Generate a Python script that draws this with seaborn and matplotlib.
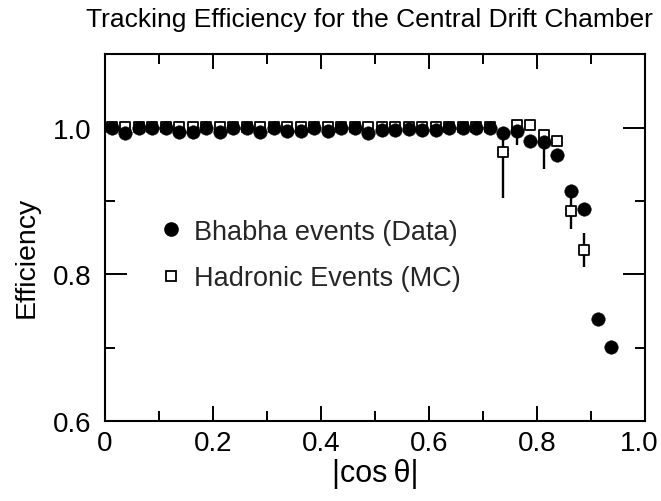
import matplotlib
matplotlib.use("Agg")
import matplotlib.pyplot as plt
import seaborn as sns
import pandas as pd
from matplotlib.ticker import MultipleLocator
from matplotlib.lines import Line2D
from matplotlib.transforms import ScaledTranslation

# ---- data ----
bhabha_cos = [0.0125, 0.0375, 0.0625, 0.0875, 0.1125, 0.1375, 0.1625, 0.1875,
              0.2125, 0.2375, 0.2625, 0.2875, 0.3125, 0.3375, 0.3625, 0.3875,
              0.4125, 0.4375, 0.4625, 0.4875, 0.5125, 0.5375, 0.5625, 0.5875,
              0.6125, 0.6375, 0.6625, 0.6875, 0.7125, 0.7375, 0.7625, 0.7875,
              0.8125, 0.8375, 0.8625, 0.8875, 0.9125, 0.9375]
bhabha_eff = [1.000, 0.993, 0.999, 0.999, 0.999, 0.994, 0.994, 0.999,
              0.994, 0.999, 0.999, 0.994, 0.999, 0.995, 0.995, 0.999,
              0.995, 0.999, 0.999, 0.993, 0.997, 0.997, 0.998, 0.997,
              0.997, 0.999, 1.000, 1.000, 1.000, 0.993, 0.995, 0.982,
              0.980, 0.963, 0.913, 0.889, 0.739, 0.701]

mc_cos = [0.0125, 0.0375, 0.0625, 0.0875, 0.1125, 0.1375, 0.1625, 0.1875,
          0.2125, 0.2375, 0.2625, 0.2875, 0.3125, 0.3375, 0.3625, 0.3875,
          0.4125, 0.4375, 0.4625, 0.4875, 0.5125, 0.5375, 0.5625, 0.5875,
          0.6125, 0.6375, 0.6625, 0.6875, 0.7125, 0.7375, 0.7625, 0.7875,
          0.8125, 0.8375, 0.8625, 0.8875]
mc_eff = [1.001, 1.001, 1.001, 1.001, 1.001, 1.001, 1.001, 1.001,
          1.001, 1.001, 1.001, 1.001, 1.001, 1.001, 1.001, 1.001,
          1.001, 1.001, 1.001, 1.001, 1.001, 1.001, 1.001, 1.001,
          1.001, 1.001, 1.001, 1.001, 1.001, 0.967, 1.004, 1.004,
          0.990, 0.982, 0.887, 0.833]

# error bars (only where visible)
bhabha_err_cos = [0.7625, 0.8125]
bhabha_err_eff = [0.995, 0.980]
bhabha_err_lo = [0.019, 0.036]
bhabha_err_hi = [0.000, 0.000]

mc_err_cos = [0.7375, 0.8625, 0.8875]
mc_err_eff = [0.967, 0.887, 0.833]
mc_err_lo = [0.063, 0.025, 0.023]
mc_err_hi = [0.026, 0.019, 0.024]

x_ticks = [0, 0.2, 0.4, 0.6, 0.8, 1.0]
x_ticklabels = ["0", "0.2", "0.4", "0.6", "0.8", "1.0"]
y_ticks = [0.6, 0.8, 1.0]
y_ticklabels = ["0.6", "0.8", "1.0"]

title = "Tracking Efficiency for the Central Drift Chamber"
xlabel = "|cos\u2009θ|"
ylabel = "Efficiency"
label_data = "Bhabha events (Data)"
label_mc = "Hadronic Events (MC)"

# ---- style ----
sns.set_theme(style="ticks")
plt.rcParams["font.family"] = ["Liberation Sans", "DejaVu Sans"]

fig = plt.figure(figsize=(6.61, 5.02), dpi=100)
ax = fig.add_axes([0.159, 0.159, 0.817, 0.731])

df_b = pd.DataFrame({"cos": bhabha_cos, "eff": bhabha_eff})
df_m = pd.DataFrame({"cos": mc_cos, "eff": mc_eff})

# error bars
ax.errorbar(mc_err_cos, mc_err_eff, yerr=[mc_err_lo, mc_err_hi], fmt="none",
            ecolor="black", elinewidth=1.7, capsize=0, zorder=2)
ax.errorbar(bhabha_err_cos, bhabha_err_eff, yerr=[bhabha_err_lo, bhabha_err_hi],
            fmt="none", ecolor="black", elinewidth=1.7, capsize=0, zorder=2)

sns.scatterplot(data=df_m, x="cos", y="eff", marker="s", s=60, facecolor="white",
                edgecolor="black", linewidth=1.3, zorder=3, ax=ax)
sns.scatterplot(data=df_b, x="cos", y="eff", marker="o", s=95, color="black",
                edgecolor="black", linewidth=0.3, zorder=4, ax=ax)

ax.set_xlim(0, 1.0)
ax.set_ylim(0.6, 1.1)
ax.set_xticks(x_ticks)
ax.set_xticklabels(x_ticklabels)
ax.set_yticks(y_ticks)
ax.set_yticklabels(y_ticklabels)
ax.xaxis.set_minor_locator(MultipleLocator(0.1))
ax.yaxis.set_minor_locator(MultipleLocator(0.1))

for s in ax.spines.values():
    s.set_visible(True)
    s.set_linewidth(1.5)
    s.set_color("black")

ax.tick_params(axis="both", which="both", direction="in", top=True, right=True,
               color="black", width=1.4, labelsize=20, labelcolor="black")
ax.tick_params(axis="x", which="major", length=11, pad=6)
ax.tick_params(axis="x", which="minor", length=7)
ax.tick_params(axis="y", which="major", length=16, pad=10)
ax.tick_params(axis="y", which="minor", length=7)

# nudge the last x tick label so it stays inside the figure
last = ax.get_xticklabels()[-1]
last.set_transform(last.get_transform() + ScaledTranslation(-4 / 72, 0, fig.dpi_scale_trans))

ax.set_xlabel(xlabel, fontsize=22, labelpad=2, color="black")
ax.set_ylabel(ylabel, fontsize=20.5, labelpad=10, color="black")
ax.yaxis.set_label_coords(-0.122, 0.45)
ax.set_title(title, fontsize=19, pad=20, color="black", x=0.489)

handles = [
    Line2D([], [], marker="o", linestyle="none", markersize=9.5,
           markerfacecolor="black", markeredgecolor="black"),
    Line2D([], [], marker="s", linestyle="none", markersize=7.6,
           markerfacecolor="white", markeredgecolor="black", markeredgewidth=1.3),
]
ax.legend(handles, [label_data, label_mc], loc="center left",
          bbox_to_anchor=(0.105, 0.453), frameon=False, fontsize=19.5,
          handlelength=0.7, handletextpad=0.5, labelspacing=0.75, borderpad=0,
          borderaxespad=0)

fig.savefig("out.png", dpi=100)
